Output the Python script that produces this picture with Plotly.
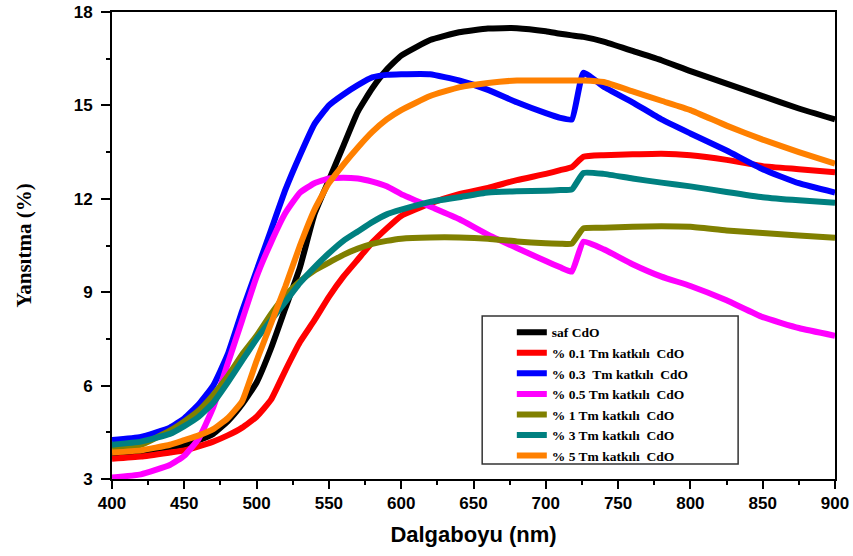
import plotly.graph_objects as go

wavelength = [400, 420, 440, 450, 460, 470, 480, 490, 500, 510, 520, 530, 540, 550, 560,
              570, 580, 590, 600, 620, 640, 660, 680, 700, 710, 718, 726, 740, 760, 780,
              800, 825, 850, 875, 900]

saf_cdo = [3.8, 3.88, 4.0, 4.1, 4.25, 4.45, 4.85, 5.4, 6.1, 7.2, 8.5, 9.8, 11.5, 12.6, 13.7,
           14.8, 15.55, 16.15, 16.6, 17.1, 17.35, 17.47, 17.48, 17.38, 17.3, 17.25, 17.2, 17.05, 16.75, 16.45,
           16.1, 15.7, 15.3, 14.9, 14.55]

tm_01 = [3.65, 3.72, 3.85, 3.92, 4.05, 4.2, 4.4, 4.65, 5.0, 5.55, 6.5, 7.4, 8.1, 8.85, 9.5,
         10.05, 10.6, 11.05, 11.45, 11.85, 12.15, 12.35, 12.6, 12.8, 12.92, 13.02, 13.35, 13.4, 13.43, 13.45,
         13.4, 13.25, 13.05, 12.95, 12.85]

tm_03 = [4.25, 4.35, 4.65, 4.95, 5.4, 6.0, 7.0, 8.4, 9.7, 11.0, 12.3, 13.4, 14.4, 15.0, 15.35,
         15.65, 15.9, 15.98, 16.0, 16.0, 15.8, 15.5, 15.1, 14.75, 14.6, 14.55, 16.05, 15.6, 15.1, 14.55,
         14.1, 13.55, 12.95, 12.5, 12.2]

tm_05 = [3.05, 3.15, 3.45, 3.75, 4.3, 5.3, 6.7, 8.1, 9.5, 10.6, 11.55, 12.2, 12.5, 12.65, 12.68,
         12.65, 12.55, 12.4, 12.15, 11.75, 11.35, 10.85, 10.42, 10.0, 9.8, 9.66, 10.62, 10.38, 9.9, 9.5,
         9.2, 8.74, 8.2, 7.85, 7.6]

tm_1 = [4.0, 4.1, 4.55, 4.85, 5.2, 5.7, 6.3, 7.0, 7.6, 8.3, 8.9, 9.35, 9.7, 9.95, 10.2,
        10.4, 10.55, 10.65, 10.72, 10.76, 10.76, 10.72, 10.63, 10.57, 10.56, 10.56, 11.05, 11.07, 11.1, 11.12,
        11.1, 10.98, 10.9, 10.82, 10.75]

tm_3 = [4.1, 4.2, 4.45, 4.7, 5.0, 5.45, 6.1, 6.8, 7.5, 8.1, 8.7, 9.3, 9.8, 10.25, 10.65,
        10.95, 11.25, 11.5, 11.65, 11.9, 12.05, 12.2, 12.24, 12.26, 12.28, 12.3, 12.83, 12.8, 12.65, 12.52,
        12.4, 12.22, 12.05, 11.95, 11.87]

tm_5 = [3.85, 3.92, 4.1, 4.25, 4.4, 4.6, 4.95, 5.5, 6.8, 8.0, 9.2, 10.5, 11.65, 12.5, 13.1,
        13.65, 14.15, 14.55, 14.85, 15.3, 15.58, 15.72, 15.8, 15.8, 15.8, 15.8, 15.8, 15.75, 15.45, 15.15,
        14.85, 14.35, 13.9, 13.5, 13.13]

series_names = ["saf CdO",
                "% 0.1 Tm katkılı \u00a0CdO",
                "% 0.3 \u00a0Tm katkılı \u00a0CdO",
                "% 0.5 Tm katkılı \u00a0CdO",
                "% 1 Tm katkılı \u00a0CdO",
                "% 3 Tm katkılı \u00a0CdO",
                "% 5 Tm katkılı \u00a0CdO"]
series_values = [saf_cdo, tm_01, tm_03, tm_05, tm_1, tm_3, tm_5]
series_colors = ["#000000", "#ff0000", "#0000ff", "#ff00ff", "#808000", "#008080", "#ff8000"]

x_ticks = [400, 450, 500, 550, 600, 650, 700, 750, 800, 850, 900]
y_ticks = [3, 6, 9, 12, 15, 18]

fig = go.Figure()
for name, vals, col in zip(series_names, series_values, series_colors):
    fig.add_trace(go.Scatter(x=wavelength, y=vals, mode="lines", name=name,
                             line=dict(color=col, width=6, shape="spline", smoothing=0.4)))

axis_common = dict(showline=True, linewidth=2, linecolor="black", mirror=True,
                   ticks="outside", tickwidth=2, tickcolor="black",
                   showgrid=False, zeroline=False, automargin=False,
                   ticklabeloverflow="allow",
                   tickfont=dict(family="Liberation Sans", size=17, color="black", weight="bold"))

fig.update_xaxes(range=[400, 900], tickvals=x_ticks, ticklen=8,
                 minor=dict(ticks="outside", ticklen=4, tickwidth=1.5, dtick=25, tick0=400, tickcolor="black"),
                 title=dict(text="Dalgaboyu (nm)", standoff=14,
                            font=dict(family="Liberation Sans", size=22, color="black", weight="bold")),
                 **axis_common)
fig.update_yaxes(range=[3, 18], tickvals=y_ticks, ticklen=9, ticklabelstandoff=5,
                 minor=dict(ticks="outside", ticklen=4, tickwidth=1.5, dtick=1.5, tick0=3, tickcolor="black"),
                 title=dict(text="Yansıtma (%)", standoff=36,
                            font=dict(family="Liberation Serif", size=21, color="black", weight="bold")),
                 **axis_common)

fig.add_shape(type="rect", xref="paper", yref="paper", x0=0.512, x1=0.866, y0=0.032, y1=0.349,
              line=dict(color="#333333", width=1.5), fillcolor="white", layer="above")

fig.update_layout(width=853, height=556, margin=dict(l=112, r=18, t=12, b=77),
                  plot_bgcolor="white", paper_bgcolor="white",
                  legend=dict(x=0.553, y=0.347, xanchor="left", yanchor="top",
                              bgcolor="rgba(0,0,0,0)", borderwidth=0,
                              font=dict(family="Liberation Serif", size=13.5, color="black", weight="bold"),
                              tracegroupgap=0),
                  showlegend=True)

fig.write_html("out.html", config={"displayModeBar": False},
               post_script="document.body.style.margin='0';")
